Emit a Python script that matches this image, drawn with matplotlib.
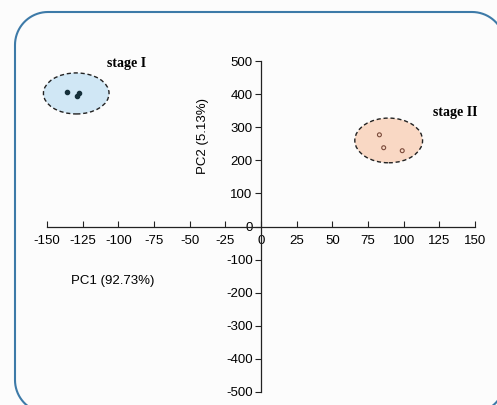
import matplotlib
matplotlib.use("Agg")
import numpy as np
import matplotlib.pyplot as plt
from matplotlib.patches import Ellipse
from matplotlib.lines import Line2D

# PCA scores
stage1_pc1 = [-136, -129, -127.5]
stage1_pc2 = [406, 393, 402]
stage2_pc1 = [83, 86, 99]
stage2_pc2 = [277, 238, 229]

# group ellipses: center x, center y, width, height
ell1 = (-129.5, 402, 46, 124)
ell2 = (89.5, 260, 47.5, 135)

xticks = [-150, -125, -100, -75, -50, -25, 0, 25, 50, 75, 100, 125, 150]
yticks = [-500, -400, -300, -200, -100, 0, 100, 200, 300, 400, 500]

plt.rcParams['font.family'] = ['Liberation Sans', 'DejaVu Sans']
plt.rcParams['axes.unicode_minus'] = False

W, H = 497, 405
fig = plt.figure(figsize=(W / 100, H / 100), dpi=100)
fig.patch.set_facecolor('#fcfcfc')


def rounded_frame(x0, y0, x1, y1, r):
    # corners as circular arcs, in pixel coords
    pts = []
    for cx, cy, a0 in [(x1 - r, y1 - r, 0), (x0 + r, y1 - r, 90),
                       (x0 + r, y0 + r, 180), (x1 - r, y0 + r, 270)]:
        a = np.radians(np.linspace(a0, a0 + 90, 20))
        pts += list(zip(cx + r * np.cos(a), cy + r * np.sin(a)))
    pts.append(pts[0])
    xs, ys = zip(*pts)
    return Line2D(xs, ys, transform=None, color='#3d7aa8', linewidth=1.5)


fig.lines.append(rounded_frame(15, -8, 505, 393, 33))

ax = fig.add_axes([47 / W, 13 / H, 428 / W, 331 / H])
ax.set_facecolor('none')
ax.set_xlim(-150, 150)
ax.set_ylim(-500, 500)

ax.spines['left'].set_position('zero')
ax.spines['bottom'].set_position('zero')
ax.spines['right'].set_visible(False)
ax.spines['top'].set_visible(False)
for s in ('left', 'bottom'):
    ax.spines[s].set_linewidth(0.9)
    ax.spines[s].set_color('#222222')

ax.set_xticks(xticks)
ax.set_yticks(yticks)
ax.tick_params(axis='x', direction='in', length=4, pad=6, labelsize=9.5, color='#222222')
ax.tick_params(axis='y', direction='out', length=4, pad=2, labelsize=9.5, color='#222222')

# ellipse 1 pokes a little past the left x limit
ax.add_patch(Ellipse((ell1[0], ell1[1]), ell1[2], ell1[3], facecolor='#d0e7f5',
                     edgecolor='#222222', linestyle=(0, (3, 2)), linewidth=1.0,
                     zorder=2, clip_on=False))
ax.add_patch(Ellipse((ell2[0], ell2[1]), ell2[2], ell2[3], facecolor='#f9d8c4',
                     edgecolor='#222222', linestyle=(0, (3, 2)), linewidth=1.0,
                     zorder=2, clip_on=False))

ax.scatter(stage1_pc1, stage1_pc2, s=9, color='#15303a', zorder=3)
ax.scatter(stage2_pc1, stage2_pc2, s=8, facecolor='none', edgecolor='#7a4a3a',
           linewidth=0.8, zorder=3)

ax.text(-108, 491, 'stage I', family='Liberation Serif', fontweight='bold',
        fontsize=10, ha='left', va='center')
ax.text(120.5, 343, 'stage II', family='Liberation Serif', fontweight='bold',
        fontsize=10, ha='left', va='center')

ax.text(-104, -166, 'PC1 (92.73%)', fontsize=9.5, ha='center', va='center')
ax.text(-40.5, 274, 'PC2 (5.13%)', fontsize=9.5, rotation=90, ha='center', va='center')

fig.savefig('out.png', dpi=100, facecolor=fig.get_facecolor())
